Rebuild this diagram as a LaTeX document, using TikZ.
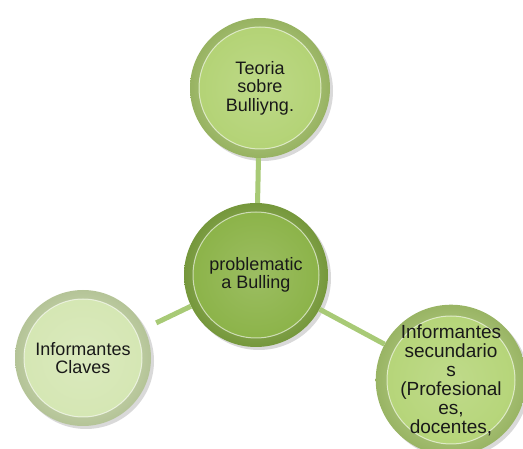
\documentclass[tikz,border=0pt]{standalone}
\usepackage{fontspec}
\setmainfont{Liberation Sans}
\usepackage{tikz}
\usetikzlibrary{shadows}

\definecolor{topgreen}{RGB}{178,210,115}
\definecolor{midgreen}{RGB}{138,178,70}
\definecolor{leftgreen}{RGB}{212,230,178}
\definecolor{rightgreen}{RGB}{180,212,118}
\definecolor{linkgreen}{RGB}{168,202,118}

\tikzset{
  bead/.style 2 args={circle, inner sep=0pt, minimum size=#2, align=center,
    font=\fontsize{18}{18.5}\selectfont, text=black!90,
    inner color=#1!70!white, outer color=#1!85!black,
    drop shadow={shadow xshift=3pt, shadow yshift=-3pt, opacity=.3},
    path picture={\shade[inner color=#1!85!white, outer color=#1]
      (path picture bounding box.center) circle (#2/2-9pt);
      \draw[white, opacity=.6, line width=1pt]
      (path picture bounding box.center) circle (#2/2-9pt);}},
  link/.style={draw=linkgreen, line width=5pt}
}

\begin{document}
\begin{tikzpicture}[x=1pt, y=-1pt]
\useasboundingbox (0,0) rectangle (523,449);
\clip (0,0) rectangle (523,449);
\node[bead={topgreen}{140pt}] (teoria) at (260,88) {Teoria\\sobre\\Bulliyng.};
\node[bead={midgreen}{144pt}] (centro) at (256,275) {problematic\\a Bulling};
\node[bead={leftgreen}{136pt}] (claves) at (83,358) {Informantes\\Claves};
\node[bead={rightgreen}{146pt}, font=\fontsize{19}{19}\selectfont] (secund) at (451,380)
  {Informantes\\secundario\\s\\(Profesional\\es,\\docentes,};
\draw[link] (teoria) -- (centro);
\draw[link, shorten >=13pt] (centro) -- (claves);
\draw[link] (centro) -- (secund);
\end{tikzpicture}
\end{document}
